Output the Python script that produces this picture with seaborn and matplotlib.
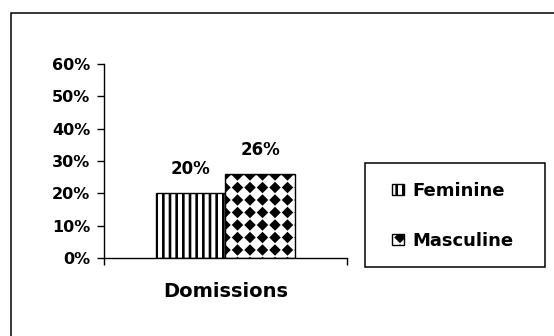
#!/usr/bin/env python3

import numpy as np
import pandas as pd
import seaborn as sns
import matplotlib.pyplot as plt
import matplotlib.hatch as mhatch
from matplotlib.path import Path
from matplotlib.patches import Rectangle

category = ["Domissions"]
sexes = ["Feminine", "Masculine"]
shares = [0.20, 0.26]
yticks = [0, 0.1, 0.2, 0.3, 0.4, 0.5, 0.6]
ytick_labels = ["0%", "10%", "20%", "30%", "40%", "50%", "60%"]
hatches = ["|", "*"]


# Excel-like fill patterns: narrow vertical stripes and a grid of black diamonds
class Stripes(mhatch.VerticalHatch):
    def __init__(self, hatch, density):
        self.num_lines = 15 if "|" in hatch else 0
        self.num_vertices = self.num_lines * 2


class Diamonds(mhatch.HatchPatternBase):
    def __init__(self, hatch, density):
        self.num_rows = 8 if "*" in hatch else 0
        self.num_vertices = (self.num_rows + 1) ** 2 * 5 if self.num_rows else 0

    def set_vertices_and_codes(self, vertices, codes):
        r = 0.31 / self.num_rows
        shape = np.array([[0, -r], [r, 0], [0, r], [-r, 0], [0, -r]])
        grid = np.linspace(0, 1, self.num_rows + 1)
        pts = [shape + [x, y] for y in grid for x in grid]
        vertices[:] = np.concatenate(pts)
        codes[:] = np.tile([Path.MOVETO, Path.LINETO, Path.LINETO,
                            Path.LINETO, Path.CLOSEPOLY], len(pts))


swap = {mhatch.VerticalHatch: Stripes, mhatch.Stars: Diamonds}
mhatch._hatch_types = [swap.get(t, t) for t in mhatch._hatch_types]

df = pd.DataFrame({"category": category * len(sexes), "sex": sexes, "share": shares})

plt.rcParams["font.family"] = ["DejaVu Sans"]
plt.rcParams["font.weight"] = "bold"
plt.rcParams["hatch.linewidth"] = 1.9
plt.rcParams["hatch.color"] = "black"

fig = plt.figure(figsize=(5.54, 3.36), dpi=100)
ax = fig.add_axes([0.1877, 0.2321, 0.4386, 0.5774])

sns.barplot(data=df, x="category", y="share", hue="sex", hue_order=sexes,
            palette=["white", "white"], saturation=1, edgecolor="black",
            linewidth=1.0, width=0.57, legend=False, ax=ax)

for cont, h in zip(ax.containers, hatches):
    for bar in cont:
        bar.set_hatch(h)
    ax.bar_label(cont, fmt=lambda v: f"{v:.0%}", padding=11,
                 fontsize=12, fontweight="bold")

ax.set_xlim(-0.5, 0.5)
ax.set_ylim(0, 0.6)
ax.set_yticks(yticks, ytick_labels)
ax.set_xticks([0], category)
ax.set_xticks([-0.5, 0.5], minor=True)
ax.tick_params(axis="y", direction="out", length=5, width=1, labelsize=11.5, pad=5)
ax.tick_params(axis="x", which="major", length=0, labelsize=14, pad=17)
ax.tick_params(axis="x", which="minor", direction="out", length=5, width=1)
ax.set_xlabel("")
ax.set_ylabel("")
sns.despine(ax=ax)
for s in ["left", "bottom"]:
    ax.spines[s].set_linewidth(1.0)

ax.legend(handles=list(ax.containers), labels=sexes, loc="upper left",
          bbox_to_anchor=(392 / 554, 1 - 182 / 336), bbox_transform=fig.transFigure,
          frameon=False, fontsize=13, handlelength=0.65, handleheight=0.6,
          handletextpad=0.5, labelspacing=1.75, borderpad=0, borderaxespad=0)

# legend frame and the outer chart border
fig.add_artist(Rectangle((365 / 554, 1 - 267 / 336), 180 / 554, 104 / 336,
                         transform=fig.transFigure, fill=False, ec="black", lw=1.1))
fig.add_artist(Rectangle((11 / 554, -0.1), 1.2, 1.1 - 13 / 336,
                         transform=fig.transFigure, fill=False, ec="black", lw=1.1))

fig.savefig("out.png", dpi=100)
